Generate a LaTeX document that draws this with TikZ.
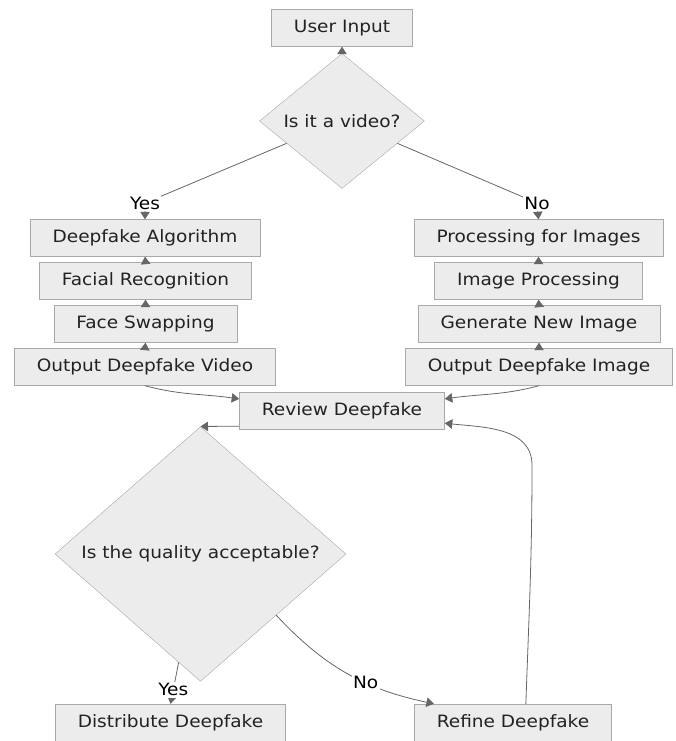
\documentclass[tikz,border=0pt]{standalone}
\usepackage{fontspec}
\setmainfont[FakeStretch=1.09]{DejaVu Sans}
\usepackage{xcolor}
\usepackage{tikz}
\usetikzlibrary{shapes.geometric}
\usetikzlibrary{arrows.meta}
\usetikzlibrary{calc}
\definecolor{boxfill}{HTML}{ECECEC}
\definecolor{boxline}{HTML}{A9A9A9}
\definecolor{wire}{HTML}{666666}
\definecolor{inktext}{HTML}{222222}
\tikzset{ flow_font/.style = {font=\fontsize{17}{20}\selectfont, text=inktext} }
\tikzset{ proc_box/.style = {rectangle, draw=boxline, fill=boxfill, flow_font, inner xsep=22.5pt, minimum height=37pt} }
\tikzset{ dec_node/.style = {diamond, draw=boxline, fill=boxfill, flow_font, inner sep=0pt} }
\tikzset{ flow_arrow/.style = {draw=wire, line width=0.8pt, -{Triangle[length=7.5pt,width=9.5pt]}} }
\tikzset{ edge_lbl/.style = {fill=white, flow_font, text=black, inner sep=1.5pt} }

\begin{document}
\begin{tikzpicture}[x=1pt, y=1pt]
        \useasboundingbox (0,0) rectangle (676,-741);
                % top part
                \node [proc_box] (U) at (342,-28) {User Input};
                \node [dec_node, minimum width=165pt, minimum height=135pt] (V) at (342,-121) {Is it a video?};
                \node [proc_box] (A) at (145,-238) {Deepfake Algorithm};
                \node [proc_box] (F) at (145.5,-281) {Facial Recognition};
                \node [proc_box] (S) at (145.5,-324) {Face Swapping};
                \node [proc_box] (OV) at (145,-367) {Output Deepfake Video};
                \node [proc_box] (P) at (538.5,-238) {Processing for Images};
                \node [proc_box] (IP) at (538.5,-281) {Image Processing};
                \node [proc_box] (G) at (539,-324) {Generate New Image};
                \node [proc_box] (OI) at (539,-367) {Output Deepfake Image};
                % review loop
                \node [proc_box] (R) at (342,-410.5) {Review Deepfake};
                \node [dec_node, minimum width=291pt, minimum height=239pt] (Q) at (200.5,-554) {Is the quality acceptable?};
                \node [proc_box] (D) at (170.5,-722.5) {Distribute Deepfake};
                \node [proc_box] (RF) at (513,-722.5) {Refine Deepfake};
                \coordinate (yes_a) at (145,-203);
                \coordinate (no_a) at (537,-203);
                \coordinate (loop_up) at (532,-465);
                \draw [flow_arrow] (V.north) -- (U.south);
                \draw [flow_arrow] ($(V.west)!0.33!(V.south)$) -- (yes_a) node [edge_lbl] {Yes} -- (A.north);
                \draw [flow_arrow] ($(V.east)!0.33!(V.south)$) -- (no_a) node [edge_lbl] {No} -- (P.north);
                \draw [flow_arrow] (F.north) -- (A.south);
                \draw [flow_arrow] (S.north) -- (F.south);
                \draw [flow_arrow] (OV.north) -- (S.south);
                \draw [flow_arrow] (IP.north) -- (P.south);
                \draw [flow_arrow] (G.north) -- (IP.south);
                \draw [flow_arrow] (OI.north) -- (G.south);
                \draw [flow_arrow] (OV.south) to [out=-15, in=172] ($(R.north west)!0.19!(R.south west)$);
                \draw [flow_arrow] (OI.south) to [out=195, in=8] ($(R.north east)!0.19!(R.south east)$);
                \draw [flow_arrow] ($(R.north west)!0.92!(R.south west)$) -- (Q.north);
                \draw [flow_arrow] ($(Q.west)!0.85!(Q.south)$) -- node [edge_lbl, pos=0.66] {Yes} (D.north);
                \draw [flow_arrow] ($(Q.south)!0.52!(Q.east)$) to [out=-47, in=168] node [edge_lbl, pos=0.62] {No} ($(RF.north west)!0.1!(RF.north east)$);
                \draw [flow_arrow] ($(RF.north)!0.13!(RF.north east)$) to [out=88, in=-90] (loop_up) to [out=90, in=-6] ($(R.north east)!0.84!(R.south east)$);
        \end{tikzpicture}
\end{document}
